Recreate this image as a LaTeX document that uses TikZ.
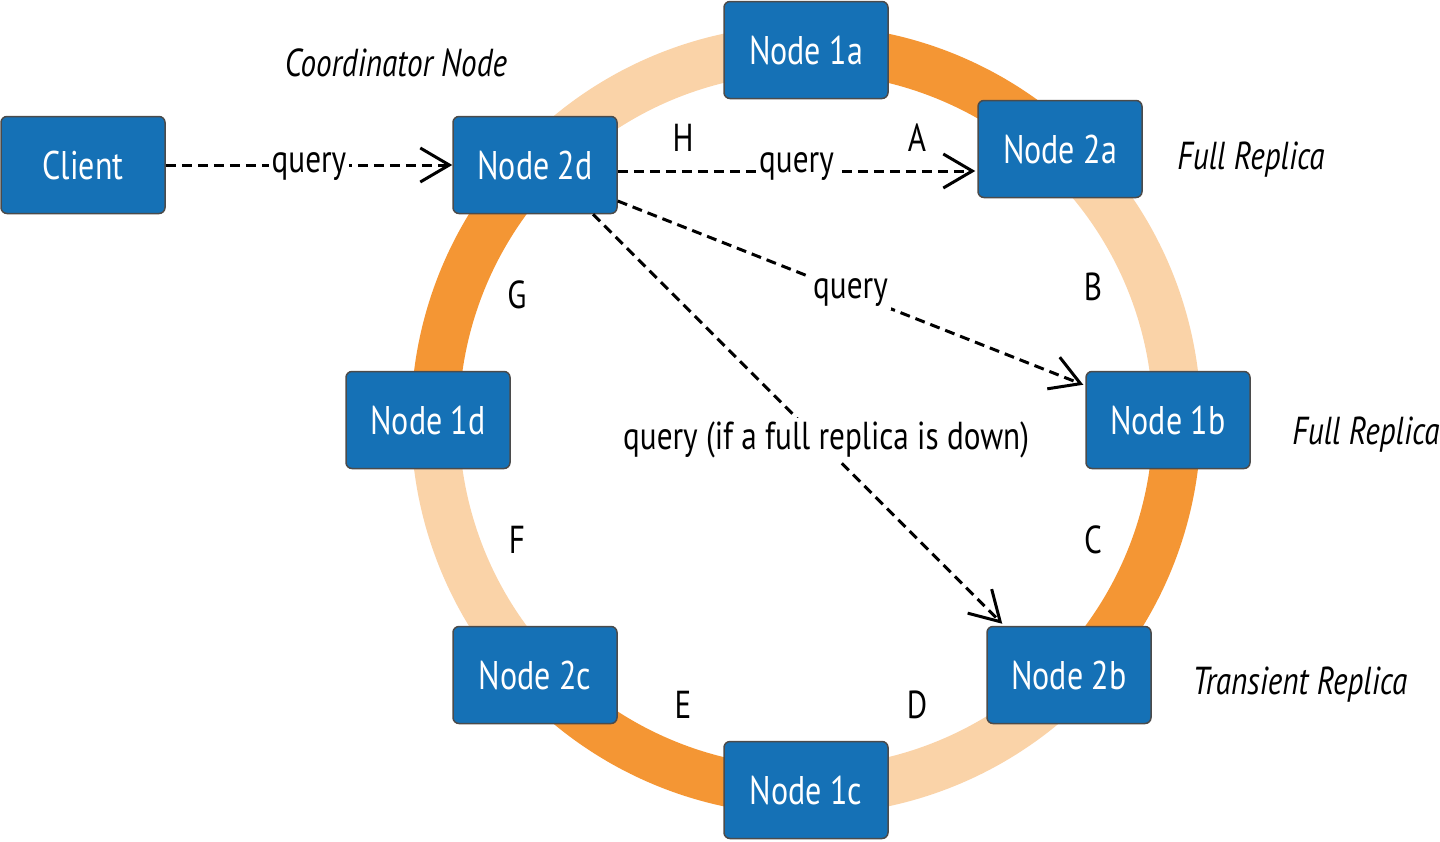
\documentclass[tikz,border=0pt]{standalone}
\usepackage{fontspec}
\setmainfont{PT Sans}[FakeStretch=0.8]
\usetikzlibrary{arrows.meta,calc}
\definecolor{nodeblue}{RGB}{21,113,182}
\definecolor{boxline}{RGB}{75,75,75}
\definecolor{ringdark}{RGB}{244,150,52}
\definecolor{ringlight}{RGB}{250,211,168}
\begin{document}
\begin{tikzpicture}[x=1pt,y=1pt,
  box/.style={draw=boxline, line width=1.5pt, fill=nodeblue, rounded corners=6pt,
    minimum width=164pt, minimum height=97pt, inner sep=0pt, text=white,
    font=\fontsize{40}{48}\selectfont},
  letter/.style={font=\fontsize{39}{46}\selectfont, inner sep=0pt},
  role/.style={font=\fontsize{39}{46}\selectfont\itshape, inner sep=0pt},
  qline/.style={line width=3pt, dash pattern=on 10pt off 6pt,
    -{Straight Barb[length=29pt,width=34pt,line width=3pt]}},
  qlab/.style={fill=white, inner sep=3pt, font=\fontsize{39}{46}\selectfont},
  ringseg/.style={line width=48pt}
]
\useasboundingbox (0,0) rectangle (1440,-841);
% ring
\def\R{371}
\coordinate (ctr) at (806,-420);
\draw[ringseg, ringdark]  ([shift={(90:\R)}]ctr)   arc[start angle=90,  end angle=47,   radius=\R];
\draw[ringseg, ringlight] ([shift={(47:\R)}]ctr)   arc[start angle=47,  end angle=0,    radius=\R];
\draw[ringseg, ringdark]  ([shift={(0:\R)}]ctr)    arc[start angle=0,   end angle=-44,  radius=\R];
\draw[ringseg, ringlight] ([shift={(-44:\R)}]ctr)  arc[start angle=-44, end angle=-90,  radius=\R];
\draw[ringseg, ringdark]  ([shift={(-90:\R)}]ctr)  arc[start angle=-90, end angle=-137, radius=\R];
\draw[ringseg, ringlight] ([shift={(-137:\R)}]ctr) arc[start angle=-137,end angle=-180, radius=\R];
\draw[ringseg, ringdark]  ([shift={(180:\R)}]ctr)  arc[start angle=180, end angle=137,  radius=\R];
\draw[ringseg, ringlight] ([shift={(137:\R)}]ctr)  arc[start angle=137, end angle=90,   radius=\R];
% nodes
\node[box] (client) at (83,-165) {Client};
\node[box] (n2d) at (535,-165) {Node 2d};
\node[box] (n1a) at (806,-50) {Node 1a};
\node[box] (n2a) at (1060,-149) {Node 2a};
\node[box] (n1b) at (1168,-420) {Node 1b};
\node[box] (n2b) at (1069,-675) {Node 2b};
\node[box] (n1c) at (806,-790) {Node 1c};
\node[box] (n2c) at (535,-675) {Node 2c};
\node[box] (n1d) at (428,-420) {Node 1d};
% letters
\node[letter] (lH) at (683,-138) {H};
\node[letter] (lA) at (917,-138) {A};
\node[letter] (lB) at (1093,-287) {B};
\node[letter] (lC) at (1093,-540) {C};
\node[letter] (lD) at (917,-705) {D};
\node[letter] (lE) at (683,-705) {E};
\node[letter] (lF) at (517,-540) {F};
\node[letter] (lG) at (517,-295) {G};
% roles
\node[role] (coord) at (396,-63) {Coordinator Node};
\node[role] (full1) at (1251,-160) {Full Replica};
\node[role] (full2) at (1366,-435) {Full Replica};
\node[role] (trans) at (1300,-685) {Transient Replica};
% connectors
\draw[qline] (client.east) -- node[qlab, yshift=-2pt] {query} (n2d.west);
\draw[qline] ($(n2d.east)+(0,-6)$) -- node[qlab, yshift=4pt] {query} ($(n2a.west)+(-2,-22)$);
\draw[qline] ($(n2d.east)+(0,-36)$) -- node[qlab] {query} ($(n1b.north west)+(-2,-14)$);
\draw[qline] ($(n2d.south)+(58,0)$) -- node[qlab, pos=0.55, xshift=8pt] {query (if a full replica is down)} ($(n2b.north west)+(16,2)$);
\end{tikzpicture}
\end{document}
